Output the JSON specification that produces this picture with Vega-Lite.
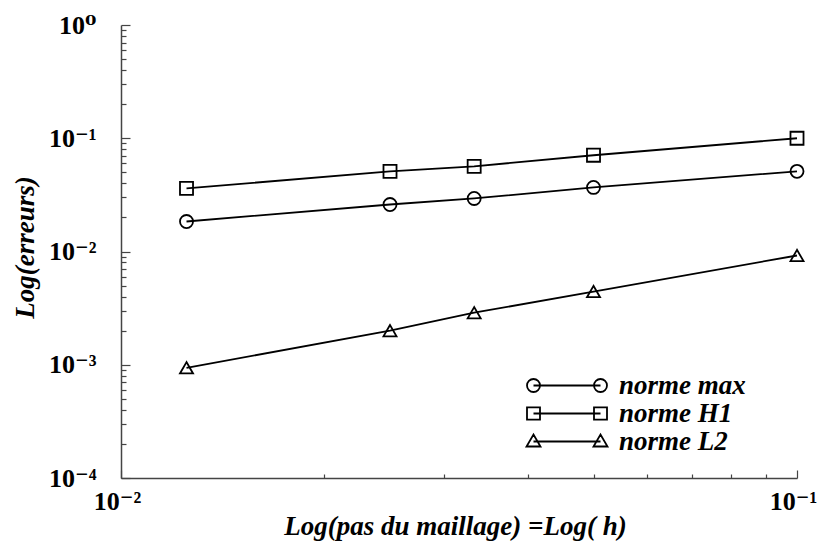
{
  "$schema": "https://vega.github.io/schema/vega-lite/v6.json",
  "width": 676,
  "height": 453,
  "autosize": {"type": "none"},
  "padding": {"left": 121, "top": 25, "right": 20, "bottom": 68},
  "background": "white",
  "config": {"view": {"stroke": null}, "font": "Liberation Serif, DejaVu Serif, serif"},
  "data": {
    "values": [
      {"h": 0.0125, "err": 0.0184, "norme": "norme max"},
      {"h": 0.025, "err": 0.026, "norme": "norme max"},
      {"h": 0.0333, "err": 0.0294, "norme": "norme max"},
      {"h": 0.05, "err": 0.0368, "norme": "norme max"},
      {"h": 0.1, "err": 0.051, "norme": "norme max"},
      {"h": 0.0125, "err": 0.0361, "norme": "norme H1"},
      {"h": 0.025, "err": 0.051, "norme": "norme H1"},
      {"h": 0.0333, "err": 0.0565, "norme": "norme H1"},
      {"h": 0.05, "err": 0.0708, "norme": "norme H1"},
      {"h": 0.1, "err": 0.1, "norme": "norme H1"},
      {"h": 0.0125, "err": 0.00094, "norme": "norme L2"},
      {"h": 0.025, "err": 0.0020, "norme": "norme L2"},
      {"h": 0.0333, "err": 0.00288, "norme": "norme L2"},
      {"h": 0.05, "err": 0.00443, "norme": "norme L2"},
      {"h": 0.1, "err": 0.00922, "norme": "norme L2"}
    ]
  },
  "encoding": {
    "x": {
      "field": "h",
      "type": "quantitative",
      "scale": {"type": "log", "domain": [0.01, 0.1], "nice": false},
      "axis": {
        "title": "Log(pas du maillage) =Log( h)",
        "titleFont": "Liberation Serif, DejaVu Serif, serif",
        "titleFontSize": 27,
        "titleFontWeight": "bold",
        "titleFontStyle": "italic",
        "titleColor": "black",
        "titleX": 334,
        "titleY": 56,
        "titleBaseline": "alphabetic",
        "titleAlign": "center",
        "values": [0.01, 0.02, 0.03, 0.04, 0.05, 0.06, 0.07, 0.08, 0.09, 0.1],
        "labelExpr": "abs(log(datum.value)/LN10 - round(log(datum.value)/LN10)) < 0.001 ? '10' + (round(log(datum.value)/LN10) == 0 ? '⁰' : '⁻' + (round(log(datum.value)/LN10) == -1 ? '¹' : round(log(datum.value)/LN10) == -2 ? '²' : round(log(datum.value)/LN10) == -3 ? '³' : '⁴')) : ''",
        "labelFont": "Liberation Serif, DejaVu Serif, serif",
        "labelFontSize": 26,
        "labelFontWeight": "bold",
        "labelColor": "black",
        "labelOverlap": false,
        "labelFlush": false,
        "labelBound": false,
        "labelPadding": 18,
        "labelOffset": -4,
        "grid": false,
        "domainColor": "#444",
        "domainWidth": 1.5,
        "tickColor": "#444",
        "tickWidth": 1.2,
        "tickSize": {"condition": {"test": "abs(log(datum.value)/LN10 - round(log(datum.value)/LN10)) < 0.001", "value": -8}, "value": -4}
      }
    },
    "y": {
      "field": "err",
      "type": "quantitative",
      "scale": {"type": "log", "domain": [0.0001, 1], "nice": false},
      "axis": {
        "title": "Log(erreurs)",
        "titleFont": "Liberation Serif, DejaVu Serif, serif",
        "titleFontSize": 27,
        "titleFontWeight": "bold",
        "titleFontStyle": "italic",
        "titleColor": "black",
        "titleAngle": -90,
        "titleX": -96,
        "titleY": 222,
        "titleAlign": "center",
        "titleBaseline": "middle",
        "values": [0.0001, 0.0002, 0.0003, 0.0004, 0.0005, 0.0006, 0.0007, 0.0008, 0.0009, 0.001, 0.002, 0.003, 0.004, 0.005, 0.006, 0.007, 0.008, 0.009, 0.01, 0.02, 0.03, 0.04, 0.05, 0.06, 0.07, 0.08, 0.09, 0.1, 0.2, 0.3, 0.4, 0.5, 0.6, 0.7, 0.8, 0.9, 1],
        "labelExpr": "abs(log(datum.value)/LN10 - round(log(datum.value)/LN10)) < 0.001 ? '10' + (round(log(datum.value)/LN10) == 0 ? '⁰' : '⁻' + (round(log(datum.value)/LN10) == -1 ? '¹' : round(log(datum.value)/LN10) == -2 ? '²' : round(log(datum.value)/LN10) == -3 ? '³' : '⁴')) : ''",
        "labelFont": "Liberation Serif, DejaVu Serif, serif",
        "labelFontSize": 26,
        "labelFontWeight": "bold",
        "labelColor": "black",
        "labelOverlap": false,
        "labelFlush": false,
        "labelBound": false,
        "labelPadding": 34,
        "grid": false,
        "domainColor": "#444",
        "domainWidth": 1.5,
        "tickColor": "#444",
        "tickWidth": 1.2,
        "tickSize": {"condition": {"test": "abs(log(datum.value)/LN10 - round(log(datum.value)/LN10)) < 0.001", "value": -9}, "value": -5}
      }
    }
  },
  "layer": [
    {
      "mark": {"type": "line", "color": "black", "strokeWidth": 1.8},
      "encoding": {"detail": {"field": "norme", "type": "nominal"}}
    },
    {
      "mark": {"type": "point", "filled": false, "color": "black", "strokeWidth": 1.8, "opacity": 1},
      "encoding": {
        "shape": {
          "field": "norme",
          "type": "nominal",
          "scale": {"domain": ["norme max", "norme H1", "norme L2"], "range": ["circle", "square", "triangle-up"]},
          "legend": null
        },
        "size": {"value": 170}
      }
    },
    {
      "mark": {"type": "point", "filled": false, "color": "black", "strokeWidth": 1.8, "opacity": 1},
      "encoding": {
        "shape": {
          "field": "norme",
          "type": "nominal",
          "scale": {"domain": ["norme max", "norme H1", "norme L2"], "range": [
            "M-6.7,0 L0,0 M-6.05,0 A0.65,0.65 0 1,0 -7.35,0 A0.65,0.65 0 1,0 -6.05,0 M0.65,0 A0.65,0.65 0 1,0 -0.65,0 A0.65,0.65 0 1,0 0.65,0",
            "M-6.7,0 L0,0 M-7.35,-0.62 L-6.05,-0.62 L-6.05,0.62 L-7.35,0.62 Z M-0.65,-0.62 L0.65,-0.62 L0.65,0.62 L-0.65,0.62 Z",
            "M-6.7,0 L0,0 M-7.4,0.5 L-6.0,0.5 L-6.7,-0.7 Z M-0.7,0.5 L0.7,0.5 L0,-0.7 Z"
          ]},
          "legend": {
            "title": null,
            "orient": "none",
            "legendX": 466,
            "legendY": 347,
            "symbolSize": 400,
            "symbolStrokeWidth": 1.8,
            "symbolStrokeColor": "black",
            "symbolFillColor": "transparent",
            "labelFont": "Liberation Serif, DejaVu Serif, serif",
            "labelFontSize": 27,
            "labelFontWeight": "bold",
            "labelFontStyle": "italic",
            "labelColor": "black",
            "labelOffset": 5,
            "rowPadding": 0
          }
        },
        "size": {"value": 0}
      }
    }
  ],
  "resolve": {"scale": {"shape": "independent"}}
}
